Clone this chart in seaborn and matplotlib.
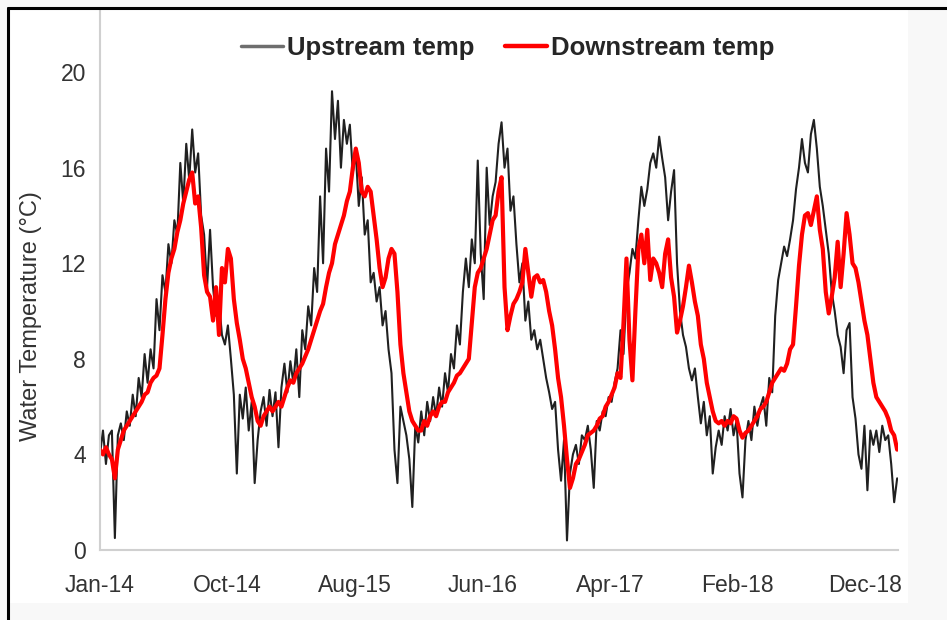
import matplotlib
matplotlib.use("Agg")
import matplotlib.pyplot as plt
import pandas as pd
import seaborn as sns
from matplotlib.lines import Line2D
from matplotlib.patches import Rectangle

# Weekly readings (°C), one list per year
up_2014 = [4.0, 5.0, 3.6, 4.8, 5.0, 0.5, 4.8, 5.3, 4.6, 5.8, 5.2, 6.5, 5.6, 7.2, 6.4, 8.2, 7.0, 8.4, 7.6, 10.5,
           9.2, 11.5, 10.8, 12.8, 12.0, 13.8, 13.2, 16.2, 14.5, 17.0, 15.5, 17.6, 15.8, 16.6, 14.0, 13.2, 11.0, 13.4,
           11.0, 9.8, 10.4, 9.0, 8.6, 9.4, 8.0, 6.5, 3.2, 6.5, 5.5, 6.8, 5.0, 6.2]
dn_2014 = [4.2, 4.0, 4.3, 4.0, 3.8, 3.0, 4.2, 4.6, 5.0, 5.2, 5.4, 5.6, 5.8, 6.0, 6.2, 6.5, 6.6, 7.0, 7.2, 7.3,
           7.6, 9.0, 10.5, 11.6, 12.2, 12.6, 13.3, 13.8, 14.5, 15.0, 15.5, 15.8, 14.5, 14.8, 13.5, 11.5, 10.8, 10.6,
           9.6, 11.0, 9.0, 11.8, 11.2, 12.6, 12.2, 10.5, 9.5, 8.8, 8.0, 7.6, 7.0, 6.4]

up_2015 = [2.8, 4.6, 5.8, 6.4, 5.2, 6.7, 5.6, 6.6, 4.3, 6.8, 7.8, 6.6, 7.9, 7.0, 8.4, 6.4, 9.2, 8.4, 10.2, 9.4,
           11.8, 10.8, 14.8, 12.0, 16.8, 15.0, 19.2, 17.2, 18.8, 16.0, 18.0, 17.0, 17.8, 15.8, 16.6, 14.4, 15.6, 13.2,
           13.8, 11.2, 11.6, 10.4, 11.0, 9.4, 10.0, 8.4, 7.4, 4.2, 2.8, 6.0, 5.4, 4.8]
dn_2015 = [6.0, 5.4, 5.2, 5.6, 5.8, 6.0, 5.8, 6.0, 6.2, 6.0, 6.4, 6.8, 7.1, 7.0, 7.4, 7.6, 7.8, 8.1, 8.4, 8.8,
           9.2, 9.6, 10.0, 10.3, 11.0, 11.6, 12.0, 12.8, 13.2, 13.6, 14.0, 14.6, 15.0, 16.0, 16.8, 16.2, 15.0, 14.8,
           15.2, 15.0, 14.0, 13.0, 11.8, 11.0, 11.4, 12.2, 12.6, 12.4, 10.8, 8.6, 7.4, 6.6]

up_2016 = [3.8, 1.8, 5.2, 4.5, 5.8, 4.8, 6.2, 5.4, 6.4, 5.6, 6.8, 6.0, 7.4, 6.6, 8.2, 7.6, 9.4, 8.6, 10.8, 12.2,
           11.0, 13.0, 12.0, 16.3, 12.4, 10.5, 16.0, 13.6, 14.8, 15.4, 17.0, 17.9, 16.0, 16.8, 14.2, 14.8, 12.8, 11.2,
           12.0, 9.6, 10.4, 8.8, 9.2, 8.4, 8.8, 8.0, 7.2, 6.6, 5.9, 6.2, 4.2, 2.9]
dn_2016 = [5.8, 5.4, 5.2, 5.0, 5.0, 5.4, 5.2, 5.6, 5.8, 5.6, 6.0, 6.2, 6.2, 6.6, 6.8, 7.0, 7.3, 7.4, 7.6, 7.8,
           8.0, 9.5, 11.0, 11.6, 11.8, 12.2, 12.6, 13.2, 13.8, 14.0, 15.0, 15.6, 11.0, 9.2, 9.8, 10.3, 10.5, 10.8,
           11.2, 12.6, 11.6, 10.6, 11.4, 11.5, 11.2, 11.3, 10.8, 10.0, 9.4, 8.4, 7.2, 6.4]

up_2017 = [4.6, 0.4, 3.2, 4.0, 4.4, 3.6, 4.8, 4.6, 5.2, 4.2, 2.6, 5.4, 5.0, 5.8, 5.6, 6.4, 6.2, 7.0, 7.6, 9.2,
           8.2, 10.8, 11.6, 12.6, 12.2, 13.8, 15.2, 14.4, 15.1, 16.2, 16.6, 16.0, 17.3, 16.4, 15.6, 13.8, 15.0, 15.9,
           12.0, 10.0, 9.0, 8.5, 7.6, 7.1, 7.6, 6.4, 5.3, 6.2, 4.8, 5.6, 3.2, 4.3]
dn_2017 = [5.2, 3.8, 2.6, 3.0, 3.6, 3.8, 4.1, 4.4, 4.8, 4.9, 5.0, 5.2, 5.5, 5.6, 6.0, 6.2, 6.5, 6.8, 7.4, 7.2,
           9.5, 12.2, 8.8, 7.1, 10.0, 12.6, 13.2, 12.0, 13.4, 11.3, 12.2, 12.0, 11.6, 11.0, 12.4, 13.0, 11.4, 10.6,
           9.1, 9.6, 10.2, 11.0, 11.9, 11.2, 10.4, 9.8, 8.6, 8.0, 7.0, 6.4, 5.8, 5.4]

up_2018 = [5.0, 4.4, 5.6, 5.0, 5.9, 4.8, 5.4, 3.2, 2.2, 4.6, 5.4, 4.6, 6.0, 5.2, 6.0, 6.4, 5.2, 7.2, 6.6, 9.8,
           11.3, 12.0, 12.7, 12.3, 13.0, 13.8, 15.1, 16.0, 17.2, 16.2, 15.8, 17.4, 18.0, 16.8, 15.2, 14.4, 13.4, 12.4,
           10.8, 10.0, 9.0, 8.5, 7.4, 9.2, 9.5, 6.4, 5.5, 4.0, 3.4, 5.2, 2.5, 5.0]
dn_2018 = [5.3, 5.4, 5.2, 5.4, 5.3, 5.6, 5.5, 5.0, 4.7, 4.9, 5.0, 5.2, 5.4, 5.6, 5.9, 6.0, 6.2, 6.6, 7.0, 7.2,
           7.4, 7.6, 7.5, 7.8, 8.4, 8.6, 10.2, 11.9, 13.2, 14.0, 14.1, 13.6, 14.2, 14.8, 13.4, 12.6, 10.8, 9.9,
           10.6, 11.4, 12.9, 11.0, 12.4, 14.1, 13.2, 12.0, 11.8, 11.2, 10.4, 9.6, 9.0, 8.0]

up_2019 = [4.4, 5.0, 4.1, 5.2, 4.6, 4.8, 3.6, 2.0, 3.0]
dn_2019 = [7.0, 6.4, 6.2, 6.0, 5.8, 5.5, 5.0, 4.8, 4.2]

upstream = up_2014 + up_2015 + up_2016 + up_2017 + up_2018 + up_2019
downstream = dn_2014 + dn_2015 + dn_2016 + dn_2017 + dn_2018 + dn_2019

start = pd.Timestamp("2014-01-01")
dates = pd.date_range(start, periods=len(upstream), freq="7D")
df = pd.DataFrame({"date": dates, "Upstream temp": upstream, "Downstream temp": downstream})

# Excel-style date axis: a tick every 300 days
tick_dates = pd.date_range(start, periods=7, freq="300D")
tick_labels = [d.strftime("%b-%y") for d in tick_dates]
y_ticks = [0, 4, 8, 12, 16, 20]

sns.set_style("white")
plt.rcParams["font.family"] = ["Liberation Sans", "DejaVu Sans"]

W, H = 947, 620
fig = plt.figure(figsize=(W / 100, H / 100), dpi=100)
fig.patch.set_facecolor("#f8f8f8")
fig.add_artist(Rectangle((9 / W, 1 - 603 / H), (908 - 9) / W, (603 - 9) / H,
                         transform=fig.transFigure, facecolor="white", edgecolor="none", zorder=0))
fig.add_artist(Line2D([8 / W, 1], [1 - 8 / H] * 2, color="black", lw=2.2))
fig.add_artist(Line2D([8 / W] * 2, [0, 1 - 8 / H], color="black", lw=2.2))

ax = fig.add_axes([100 / W, 70 / H, 798 / W, 540 / H])
ax.set_facecolor("none")

sns.lineplot(data=df, x="date", y="Upstream temp", color="#202020", lw=1.5, ax=ax)
sns.lineplot(data=df, x="date", y="Downstream temp", color="#ff0000", lw=3.0, ax=ax)

ax.set_xlim(start, start + pd.Timedelta(days=1878))
ax.set_ylim(0, 22.6)
ax.set_xticks(tick_dates)
ax.set_xticklabels(tick_labels)
ax.set_yticks(y_ticks)
ax.set_xlabel("")
ax.set_ylabel("")

ax.tick_params(axis="x", length=5, width=1.2, color="#c8c8c8", labelsize=16.5, labelcolor="#333333", pad=12)
ax.tick_params(axis="y", length=0, labelsize=16.5, labelcolor="#333333", pad=10)
for side in ["top", "right"]:
    ax.spines[side].set_visible(False)
for side in ["left", "bottom"]:
    ax.spines[side].set_color("#d0d0d0")
    ax.spines[side].set_linewidth(1.5)

fig.text(31 / W, 1 - 316 / H, "Water Temperature (°C)", rotation=90, ha="center", va="center",
         fontsize=17, color="#333333")

handles = [Line2D([], [], color="#6e6e6e", lw=2.5), Line2D([], [], color="#ff0000", lw=3.2)]
ax.legend(handles, ["Upstream temp", "Downstream temp"], loc="center", bbox_to_anchor=(0.511, 0.93),
          ncol=2, frameon=False, prop={"weight": "bold", "size": 18.5}, handlelength=1.63,
          handletextpad=0.15, columnspacing=1.2, borderpad=0, borderaxespad=0)

fig.savefig("out.png", dpi=100)
plt.close(fig)
